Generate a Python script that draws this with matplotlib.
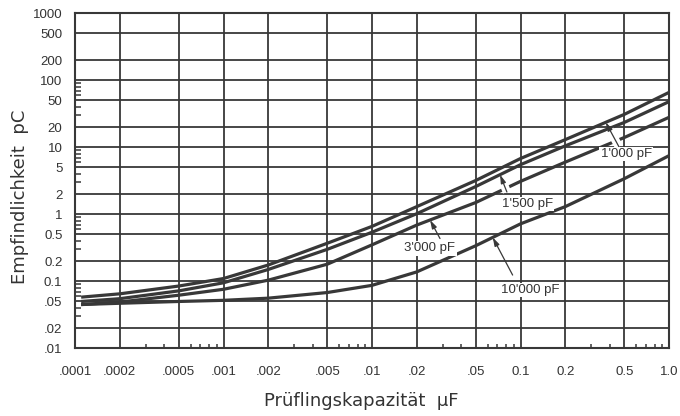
import numpy as np
import matplotlib
matplotlib.use("Agg")
import matplotlib.pyplot as plt
from matplotlib.ticker import FixedLocator, NullFormatter

# --- Daten ---
kapazitaet = [0.00011, 0.0002, 0.0005, 0.001, 0.002, 0.005, 0.01, 0.02, 0.05, 0.1, 0.2, 0.5, 1.0]
pc_1000 = [0.058, 0.065, 0.085, 0.110, 0.175, 0.37, 0.66, 1.30, 3.2, 6.8, 13.0, 31.0, 66.0]
pc_1500 = [0.050, 0.055, 0.072, 0.095, 0.150, 0.30, 0.54, 1.02, 2.6, 5.5, 10.5, 23.5, 48.0]
pc_3000 = [0.045, 0.049, 0.062, 0.076, 0.104, 0.18, 0.35, 0.69, 1.5, 3.1, 6.0, 14.0, 28.0]
pc_10000 = [0.045, 0.047, 0.050, 0.052, 0.056, 0.068, 0.087, 0.138, 0.34, 0.72, 1.3, 3.4, 7.5]

kurven = ["1'000 pF", "1'500 pF", "3'000 pF", "10'000 pF"]

x_ticks = [0.0001, 0.0002, 0.0005, 0.001, 0.002, 0.005, 0.01, 0.02, 0.05, 0.1, 0.2, 0.5, 1.0]
x_labels = [".0001", ".0002", ".0005", ".001", ".002", ".005", ".01", ".02", ".05",
            "0.1", "0.2", "0.5", "1.0"]
y_ticks = [0.01, 0.02, 0.05, 0.1, 0.2, 0.5, 1, 2, 5, 10, 20, 50, 100, 200, 500, 1000]
y_labels = [".01", ".02", ".05", "0.1", "0.2", "0.5", "1", "2", "5", "10", "20", "50",
            "100", "200", "500", "1000"]
x_minor = [m * d for d in (0.0001, 0.001, 0.01, 0.1) for m in (3, 4, 6, 7, 8, 9)]
y_minor = [m * d for d in (0.01, 0.1, 1, 10) for m in (3, 4, 6, 7, 8, 9)]

LINE = "#383838"
TXT = "#333333"
TICKFONT, TICKSIZE = "Liberation Sans", 9.5

fig = plt.figure(figsize=(6.8, 4.16), dpi=100)
ax = fig.add_axes([75 / 680, 1 - 348.3 / 416, 594 / 680, 335 / 416])
ax.set_xscale("log")
ax.set_yscale("log")
ax.set_xlim(0.0001, 1.0)
ax.set_ylim(0.01, 1000)

ax.xaxis.set_major_locator(FixedLocator(x_ticks))
ax.xaxis.set_minor_locator(FixedLocator(x_minor))
ax.yaxis.set_major_locator(FixedLocator(y_ticks))
ax.yaxis.set_minor_locator(FixedLocator(y_minor))
ax.set_xticklabels(x_labels, fontfamily=TICKFONT, fontsize=TICKSIZE, color=TXT)
ax.set_yticklabels(y_labels, fontfamily=TICKFONT, fontsize=TICKSIZE, color=TXT)
ax.xaxis.set_minor_formatter(NullFormatter())
ax.yaxis.set_minor_formatter(NullFormatter())

ax.grid(True, which="major", color=LINE, lw=1.3)
ax.tick_params(which="major", length=0)
ax.tick_params(axis="x", which="major", pad=12.5)
ax.tick_params(axis="y", which="major", pad=9)
ax.tick_params(axis="x", which="minor", direction="in", length=3, width=1.1, color=LINE)
ax.tick_params(axis="y", which="minor", direction="in", length=4.5, width=1.1, color=LINE)
for s in ax.spines.values():
    s.set_linewidth(1.5)
    s.set_color(LINE)

serien = [pc_1000, pc_1500, pc_3000, pc_10000]
for werte in serien:
    ax.plot(kapazitaet, werte, color=LINE, lw=2.3, solid_capstyle="butt",
            solid_joinstyle="round", zorder=2)


def auf_kurve(werte, x):
    return 10 ** np.interp(np.log10(x), np.log10(kapazitaet), np.log10(werte))


# Beschriftungen: Textmitte, Ansatz der Hinweislinie, x der Pfeilspitze, Luecke
beschr = [
    ((0.514, 7.9), (0.46, 10.2), 0.375, 0.70),
    ((0.111, 1.43), (0.081, 2.15), 0.0728, 0.60),
    ((0.0245, 0.309), (0.0287, 0.435), 0.0246, 0.0),
    ((0.1167, 0.074), (0.0885, 0.124), 0.065, 0.0),
]
for name, werte, (txt, start, tip_x, gap) in zip(kurven, serien, beschr):
    tip = (tip_x, auf_kurve(werte, tip_x))
    if gap > 0:
        gx = 10 ** (np.log10(start[0]) + gap * (np.log10(tip[0]) - np.log10(start[0])))
        gy = 10 ** (np.log10(start[1]) + gap * (np.log10(tip[1]) - np.log10(start[1])))
        ax.plot([start[0], gx], [start[1], gy], color="white", lw=6, zorder=3,
                solid_capstyle="butt")
    ax.annotate("", xy=tip, xytext=start, zorder=4,
                arrowprops=dict(arrowstyle="-|>,head_length=0.5,head_width=0.15",
                                color=LINE, lw=0.9, shrinkA=0, shrinkB=0,
                                mutation_scale=10))
    ax.text(txt[0], txt[1], name, ha="center", va="center", fontfamily=TICKFONT,
            fontsize=TICKSIZE, color=TXT, zorder=5,
            bbox=dict(boxstyle="square,pad=0.1", fc="white", ec="none"))

fig.text(20 / 680, 1 - 197 / 416, "Empfindlichkeit  pC", rotation=90, ha="center",
         va="center", fontsize=13, color=TXT)
fig.text(361 / 680, 1 - 401 / 416, "Prüflingskapazität  µF", ha="center", va="center",
         fontsize=13, color=TXT)

fig.savefig("out.png", dpi=100)
